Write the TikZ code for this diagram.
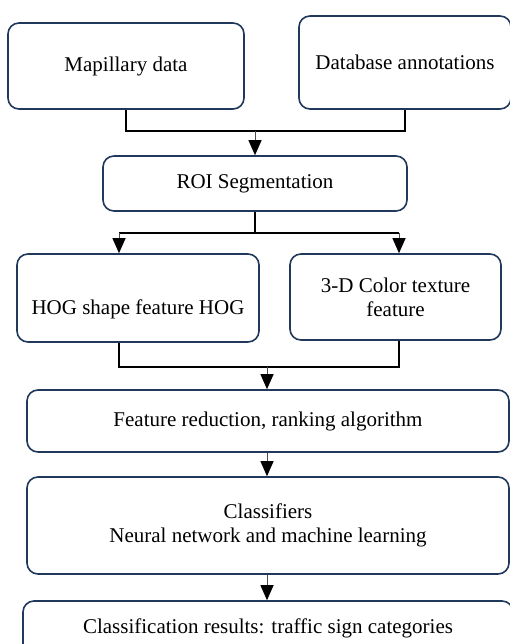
\documentclass[tikz,border=0pt]{standalone}
\usepackage{fontspec}
\setmainfont{Liberation Serif}
\usepackage{tikz}
\usetikzlibrary{shapes}
\usetikzlibrary{arrows.meta}
\definecolor{boxblue}{RGB}{31,56,92}
\tikzset{
  flow_box/.style = {rectangle, rounded corners=11pt, draw=boxblue,
    line width=1.6pt, align=center, inner sep=0pt,
    font=\fontsize{21}{24}\selectfont},% boite du schema
  flow_line/.style = {draw=black, line width=1.6pt},% ligne de jonction
  flow_arrow/.style = {draw=black!70, line width=1pt,
    -{Triangle[width=13pt,length=15pt,fill=black,color=black]}}% fleche
}
\begin{document}
\begin{tikzpicture}[x=1pt, y=-1pt]
      \useasboundingbox (0,0) rectangle (510,644);
      % sources
      \node [flow_box, minimum width=236pt, minimum height=86pt] (mapillary) at (126,66) {Mapillary data};
      \node [flow_box, minimum width=212pt, minimum height=93pt] (database) at (405,62.5) {Database annotations};
      \node [flow_box, minimum width=304pt, minimum height=55pt] (roi) at (255,183.5) {ROI Segmentation};
      % caracteristiques
      \node [flow_box, minimum width=242pt, minimum height=88pt, text height=38pt] (hog) at (138,298) {HOG shape feature HOG};
      \node [flow_box, minimum width=211pt, minimum height=86pt] (color) at (395.5,297) {3-D Color texture\\feature};
      \node [flow_box, minimum width=482pt, minimum height=62pt] (reduction) at (268,421) {Feature reduction, ranking algorithm};
      \node [flow_box, minimum width=482pt, minimum height=97pt] (classifiers) at (268,525.5) {Classifiers\\Neural network and machine learning};
      \node [flow_box, minimum width=490pt, minimum height=54pt] (results) at (268,628) {Classification results: traffic sign categories};
      % jonctions
      \coordinate (join_a) at (255,131);
      \coordinate (split_l) at (119,233);
      \coordinate (split_r) at (399,233);
      \coordinate (join_b) at (267,367);
      \draw [flow_line] (mapillary.south) |- (join_a) -| (database.south);
      \draw [flow_arrow] (join_a) -- (roi.north);
      \draw [flow_line] (roi.south) -- (roi.south |- split_l);
      \draw [flow_line] (split_l) -- (split_r);
      \draw [flow_arrow] (split_l) -- (split_l |- hog.north);
      \draw [flow_arrow] (split_r) -- (split_r |- color.north);
      \draw [flow_line] (split_l |- hog.south) |- (join_b) -| (split_r |- color.south);
      \draw [flow_arrow] (join_b) -- (join_b |- reduction.north);
      \draw [flow_arrow] (join_b |- reduction.south) -- (join_b |- classifiers.north);
      \draw [flow_arrow] (join_b |- classifiers.south) -- (join_b |- results.north);
\end{tikzpicture}
\end{document}
